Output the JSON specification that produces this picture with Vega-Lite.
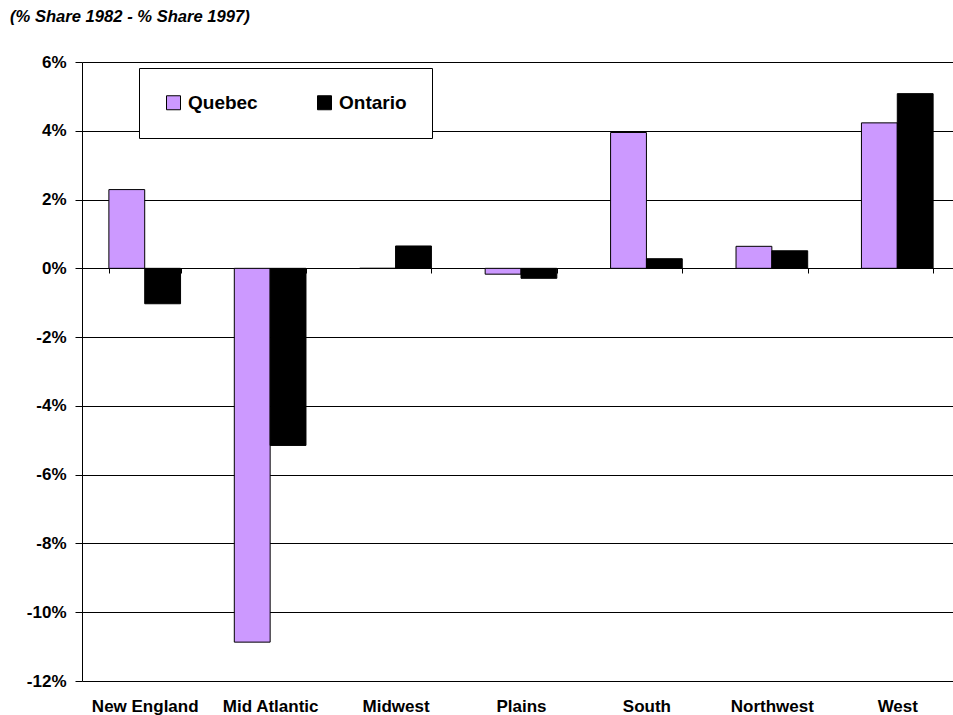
{
  "$schema": "https://vega.github.io/schema/vega-lite/v6.json",
  "width": 871,
  "height": 619,
  "autosize": "none",
  "padding": {"left": 82, "top": 62, "right": 0, "bottom": 34},
  "background": "white",
  "title": {
    "text": "(% Share 1982 - % Share 1997)",
    "anchor": "start",
    "frame": "group",
    "dx": -72,
    "offset": 14,
    "baseline": "alphabetic",
    "font": "Liberation Sans",
    "fontSize": 16.6,
    "fontStyle": "italic",
    "fontWeight": "bold",
    "color": "black"
  },
  "config": {"view": {"stroke": null}, "font": "Liberation Sans"},
  "data": {
    "values": [
      {"region": "New England", "province": "Quebec", "share": 2.29},
      {"region": "New England", "province": "Ontario", "share": -1.03},
      {"region": "Mid Atlantic", "province": "Quebec", "share": -10.87},
      {"region": "Mid Atlantic", "province": "Ontario", "share": -5.15},
      {"region": "Midwest", "province": "Quebec", "share": 0},
      {"region": "Midwest", "province": "Ontario", "share": 0.65},
      {"region": "Plains", "province": "Quebec", "share": -0.17},
      {"region": "Plains", "province": "Ontario", "share": -0.29},
      {"region": "South", "province": "Quebec", "share": 3.95},
      {"region": "South", "province": "Ontario", "share": 0.28},
      {"region": "Northwest", "province": "Quebec", "share": 0.64},
      {"region": "Northwest", "province": "Ontario", "share": 0.51},
      {"region": "West", "province": "Quebec", "share": 4.23},
      {"region": "West", "province": "Ontario", "share": 5.08}
    ]
  },
  "mark": {"type": "bar", "stroke": "black", "strokeWidth": 1},
  "encoding": {
    "x": {
      "field": "region",
      "type": "nominal",
      "sort": ["New England", "Mid Atlantic", "Midwest", "Plains", "South", "Northwest", "West"],
      "scale": {"paddingInner": 0.4286, "paddingOuter": 0.2143, "range": [0, 878]},
      "axis": {
        "title": null,
        "orient": "bottom",
        "offset": -413,
        "domain": true,
        "domainColor": "black",
        "domainWidth": 1,
        "ticks": true,
        "tickBand": "extent",
        "tickColor": "black",
        "tickSize": 5,
        "labelAngle": 0,
        "labelPadding": 425,
        "labelBaseline": "top",
        "labelFont": "Liberation Sans",
        "labelFontSize": 17,
        "labelFontWeight": "bold",
        "labelColor": "black",
        "grid": false
      }
    },
    "xOffset": {
      "field": "province",
      "type": "nominal",
      "sort": ["Quebec", "Ontario"],
      "scale": {"paddingInner": 0, "paddingOuter": 0}
    },
    "y": {
      "field": "share",
      "type": "quantitative",
      "scale": {"domain": [-12, 6], "nice": false, "zero": false},
      "axis": {
        "title": null,
        "values": [-12, -10, -8, -6, -4, -2, 0, 2, 4, 6],
        "labelExpr": "datum.value + '%'",
        "domain": true,
        "domainColor": "black",
        "ticks": true,
        "tickColor": "black",
        "tickSize": 7,
        "labelPadding": 9,
        "labelFont": "Liberation Sans",
        "labelFontSize": 17,
        "labelFontWeight": "bold",
        "labelColor": "black",
        "grid": true,
        "gridColor": "black",
        "gridOpacity": 1,
        "gridWidth": 1
      }
    },
    "color": {
      "field": "province",
      "type": "nominal",
      "sort": ["Quebec", "Ontario"],
      "scale": {"domain": ["Quebec", "Ontario"], "range": ["#CC99FF", "#000000"]},
      "legend": {
        "title": null,
        "orient": "none",
        "legendX": 57,
        "legendY": 6,
        "direction": "horizontal",
        "fillColor": "white",
        "strokeColor": "black",
        "padding": 25,
        "symbolType": "square",
        "symbolSize": 196,
        "symbolStrokeColor": "black",
        "symbolStrokeWidth": 1,
        "symbolOpacity": 1,
        "labelFont": "Liberation Sans",
        "labelFontSize": 19,
        "labelFontWeight": "bold",
        "labelColor": "black",
        "labelOffset": 5,
        "columnPadding": 57
      }
    }
  }
}
